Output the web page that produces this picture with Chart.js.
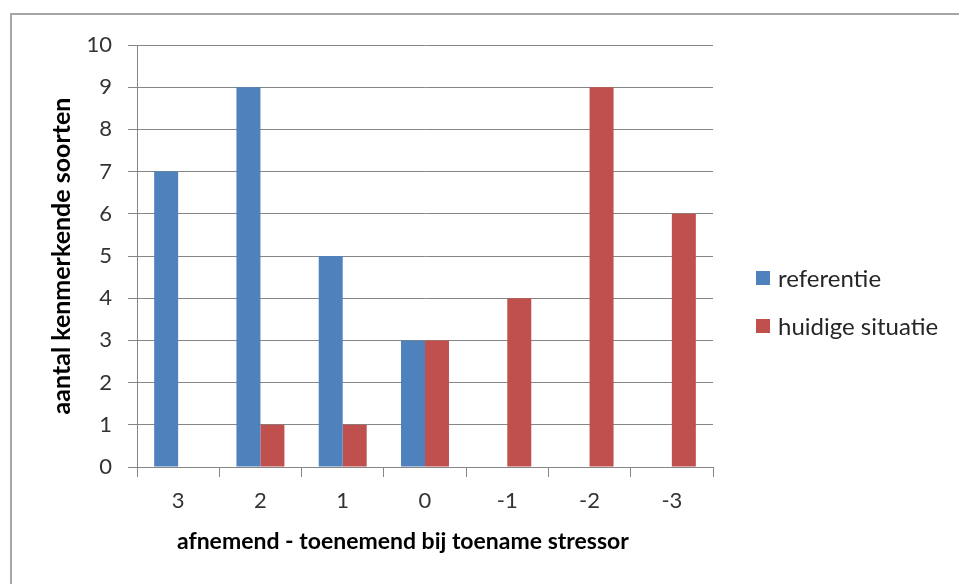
<!DOCTYPE html>
<html>
<head>
<meta charset="utf-8">
<script src="https://cdn.jsdelivr.net/npm/chart.js@4.4.1/dist/chart.umd.min.js"></script>
<style>
  html, body { margin: 0; padding: 0; background: #fff; overflow: hidden; }
  #wrap { position: relative; width: 959px; height: 584px; }
  #frame { position: absolute; left: 10px; top: 13px; width: 960px; height: 600px; border: 2px solid #a6a6a6; box-sizing: border-box; }
  canvas { position: absolute; left: 0; top: 0; }
</style>
</head>
<body>
<div id="wrap">
  <div id="frame"></div>
  <canvas id="grafico" width="959" height="584"></canvas>
</div>
<script>
// categorieen en waarden
var categorieen = ['3', '2', '1', '0', '-1', '-2', '-3'];
var referentie = [7, 9, 5, 3, 0, 0, 0];
var huidigeSituatie = [0, 1, 1, 3, 4, 9, 6];
var yTicks = [0, 1, 2, 3, 4, 5, 6, 7, 8, 9, 10];

var lijnKleur = '#868686';
var fontNaam = 'Lato, "Liberation Sans", sans-serif';

// eigen legenda rechts
var legendaPlugin = {
    id: 'legenda',
    afterDraw: function(chart) {
        var ctx = chart.ctx;
        var ys = [278, 326];
        ctx.save();
        ctx.font = '24px ' + fontNaam;
        ctx.textBaseline = 'middle';
        chart.data.datasets.forEach(function(ds, i) {
            ctx.fillStyle = ds.backgroundColor;
            ctx.fillRect(756, ys[i] - 7, 14, 14);
            ctx.fillStyle = '#262626';
            ctx.fillText(ds.label, 778, ys[i] + 1);
        });
        ctx.restore();
    }
};

// titel x-as iets links van het midden, zoals in het origineel
var xTitel = 'afnemend - toenemend bij toename stressor' + '\u00a0'.repeat(8);

var grafico = new Chart(document.getElementById('grafico'), {
    type: 'bar',
    data: {
        labels: categorieen,
        datasets: [
            { label: 'referentie', data: referentie, backgroundColor: '#4F81BD' },
            { label: 'huidige situatie', data: huidigeSituatie, backgroundColor: '#C0504D' }
        ]
    },
    options: {
        responsive: false,
        animation: false,
        layout: { padding: { top: 45, right: 246, left: 0, bottom: 0 } },
        datasets: { bar: { categoryPercentage: 0.583, barPercentage: 1.0 } },
        plugins: {
            legend: { display: false },
            tooltip: { enabled: false }
        },
        scales: {
            x: {
                grid: { drawOnChartArea: false, drawTicks: true, tickLength: 10, color: lijnKleur },
                border: { color: lijnKleur, width: 1 },
                ticks: { color: '#333333', font: { family: fontNaam, size: 22 }, padding: 11 },
                title: {
                    display: true,
                    text: xTitel,
                    color: '#000',
                    font: { family: fontNaam, size: 23, weight: 'bold' },
                    padding: { top: 0, bottom: 29 }
                },
                afterFit: function(scale) { scale.height = 117; }
            },
            y: {
                min: 0,
                max: 10,
                afterBuildTicks: function(scale) {
                    scale.ticks = yTicks.map(function(v) { return { value: v }; });
                },
                grid: { color: lijnKleur, tickLength: 9 },
                border: { color: lijnKleur, width: 1 },
                ticks: { color: '#333333', font: { family: fontNaam, size: 22 }, padding: 16 },
                title: {
                    display: true,
                    text: 'aantal kenmerkende soorten',
                    color: '#000',
                    font: { family: fontNaam, size: 25, weight: 'bold' },
                    padding: { top: 47, bottom: 0 }
                },
                afterFit: function(scale) { scale.width = 137; }
            }
        }
    },
    plugins: [legendaPlugin]
});
</script>
</body>
</html>
